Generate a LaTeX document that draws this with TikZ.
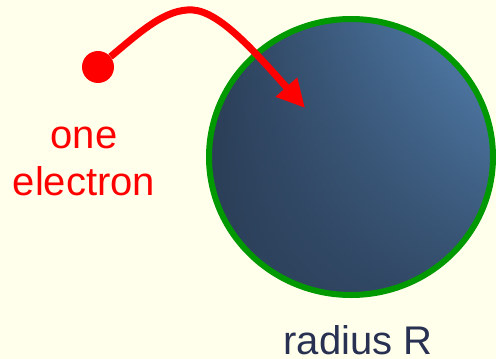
\documentclass[tikz,border=0pt]{standalone}
\usepackage{fontspec}
\setmainfont{Liberation Sans}
\usetikzlibrary{arrows.meta,fadings}

\definecolor{paper}{HTML}{FFFFEC}
\definecolor{rimgreen}{HTML}{009A00}
\definecolor{balldark}{HTML}{2B3E57}
\definecolor{balllight}{HTML}{5686B6}
\definecolor{labelnavy}{HTML}{283152}

\begin{document}
\begin{tikzpicture}[
    x=1pt, y=-1pt,
    electron/.style={
      circle,
      fill=red,
      minimum size=32pt,
      inner sep=0pt
    },
    label text/.style={
      font=\fontsize{40}{47}\selectfont,
      inner sep=0pt,
      align=center
    },
    >={Triangle[length=28pt,width=27pt]}
  ]
    \fill[paper] (0,0) rectangle (496,359);
    \useasboundingbox (0,0) rectangle (496,359);

    % the ball
    \shade[left color=balldark, right color=balllight] (351,157) ellipse [x radius=142, y radius=138];
    \fill[balldark, path fading=north, opacity=0.8] (351,157) ellipse [x radius=142, y radius=138];
    \draw[rimgreen, line width=6pt] (351,157) ellipse [x radius=142, y radius=138];

    \node[electron] (dot) at (98,67) {};
    \coordinate (hit) at (305,108);

    \node[label text, text=red, anchor=base] (onelabel) at (84,195) {one\\electron};
    \node[label text, text=labelnavy, anchor=base] (radius) at (358,354) {radius R};

    \draw[->, red, line width=7pt] (dot) .. controls (138,34) and (165,8) .. (193,10)
      .. controls (220,12) and (255,52) .. (hit);
  \end{tikzpicture}
\end{document}
